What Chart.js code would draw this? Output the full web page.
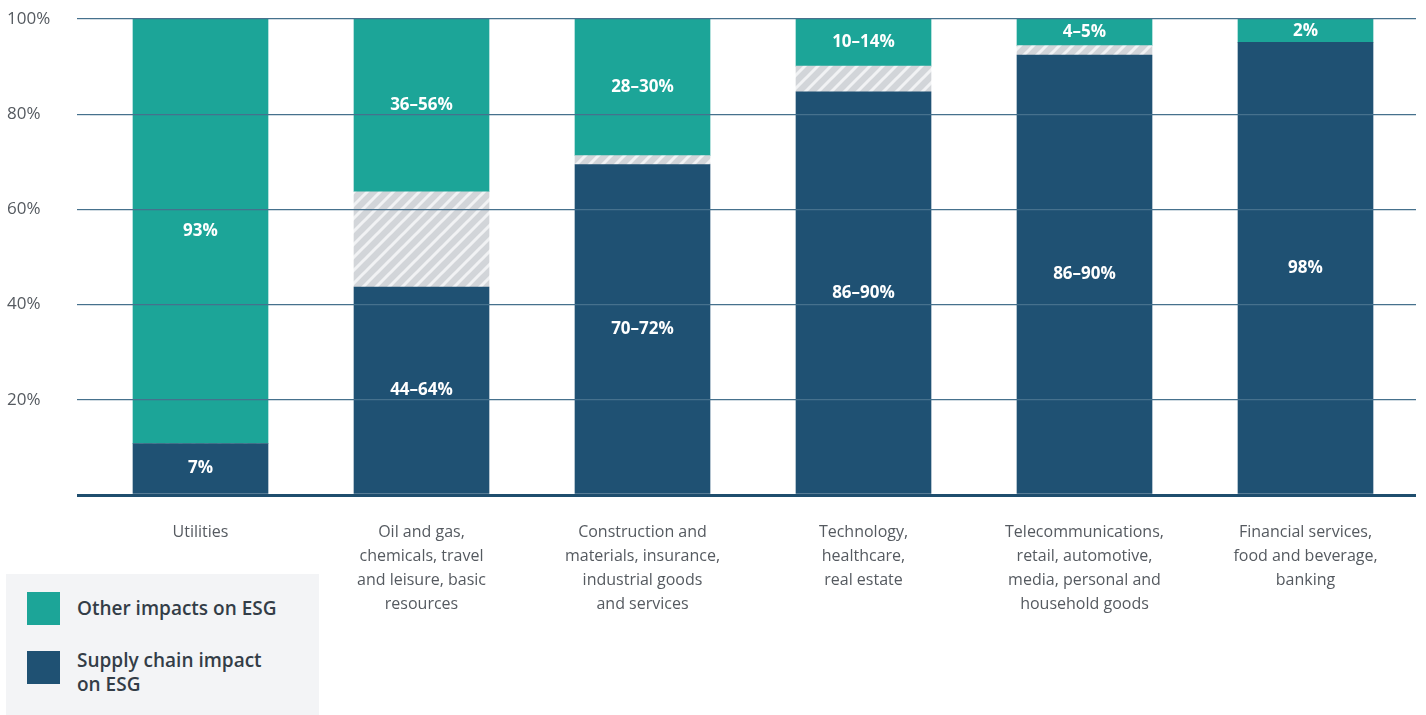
<!DOCTYPE html>
<html lang="en">
<head>
    <meta charset="UTF-8">
    <title>Supply chain impact on ESG</title>
    <script src="https://cdn.jsdelivr.net/npm/chart.js"></script>
    <style>
        body {
            margin: 0;
            background: #fff;
            font-family: "Open Sans", Arial, sans-serif;
        }
        .wrap {
            position: relative;
            width: 1426px;
            height: 715px;
        }
        #legend {
            position: absolute;
            left: 6px;
            top: 574px;
            width: 313px;
            height: 141px;
            background: #f3f4f6;
        }
        .item {
            position: absolute;
            left: 21px;
            display: flex;
            align-items: flex-start;
        }
        .item .box {
            width: 33px;
            height: 33px;
            flex: none;
        }
        .item span {
            margin-left: 17px;
            font-size: 19px;
            font-weight: 600;
            color: #333d47;
            line-height: 24px;
        }
    </style>
</head>
<body>
<div class="wrap">
    <canvas id="chart" width="1426" height="715"></canvas>
    <div id="legend"></div>
</div>
<script>
    const categories = [
        "Utilities",
        ["Oil and gas,", "chemicals, travel", "and leisure, basic", "resources"],
        ["Construction and", "materials, insurance,", "industrial goods", "and services"],
        ["Technology,", "healthcare,", "real estate"],
        ["Telecommunications,", "retail, automotive,", "media, personal and", "household goods"],
        ["Financial services,", "food and beverage,", "banking"]
    ];
    // bar heights as drawn (percent of total)
    const supplyValues = [10.8, 43.7, 69.4, 84.7, 92.4, 95.1];
    const rangeValues = [0, 20, 1.9, 5.4, 2, 0];
    const otherValues = [89.2, 36.3, 28.7, 9.9, 5.6, 4.9];
    const supplyLabels = ["7%", "44–64%", "70–72%", "86–90%", "86–90%", "98%"];
    const otherLabels = ["93%", "36–56%", "28–30%", "10–14%", "4–5%", "2%"];
    const yTicks = [0, 20, 40, 60, 80, 100];

    const teal = "#1ca598";
    const navy = "#1f5173";
    const gridCol = "#46718d";
    const baseCol = "#1f4e6e";

    function makeHatch() {
        const size = 13;
        const c = document.createElement("canvas");
        c.width = size;
        c.height = size;
        const g = c.getContext("2d");
        g.fillStyle = "#d2d5d9";
        g.fillRect(0, 0, size, size);
        g.strokeStyle = "#f1f2f4";
        g.lineWidth = 3;
        g.beginPath();
        g.moveTo(-2, size + 2); g.lineTo(size + 2, -2);
        g.moveTo(-2, 2); g.lineTo(2, -2);
        g.moveTo(size - 2, size + 2); g.lineTo(size + 2, size - 2);
        g.stroke();
        return document.getElementById("chart").getContext("2d").createPattern(c, "repeat");
    }

    const barLabels = {
        id: "barLabels",
        afterDatasetsDraw(chart) {
            const ctx = chart.ctx;
            ctx.save();
            ctx.fillStyle = "#ffffff";
            ctx.font = "bold 17px 'Open Sans', Arial, sans-serif";
            ctx.textAlign = "center";
            ctx.textBaseline = "middle";
            const sets = [[0, supplyLabels], [2, otherLabels]];
            sets.forEach(([di, labels]) => {
                chart.getDatasetMeta(di).data.forEach((bar, i) => {
                    ctx.fillText(labels[i], bar.x, (bar.y + bar.base) / 2);
                });
            });
            ctx.restore();
        }
    };

    const isZero = c => c.tick && c.tick.value === 0;

    const chart = new Chart(document.getElementById("chart"), {
        type: "bar",
        data: {
            labels: categories,
            datasets: [
                { label: "Supply chain impact on ESG", data: supplyValues, backgroundColor: navy },
                { label: "Range", data: rangeValues, backgroundColor: makeHatch() },
                { label: "Other impacts on ESG", data: otherValues, backgroundColor: teal }
            ]
        },
        options: {
            responsive: false,
            animation: false,
            layout: { padding: { left: 7, right: 10, top: 19, bottom: 0 } },
            datasets: { bar: { barThickness: 135 } },
            plugins: {
                legend: { display: false },
                tooltip: { enabled: false }
            },
            scales: {
                x: {
                    stacked: true,
                    grid: { display: false },
                    border: { display: false },
                    ticks: {
                        color: "#555a60",
                        font: { family: "'Open Sans', Arial, sans-serif", size: 16, lineHeight: 1.5 },
                        padding: 17,
                        maxRotation: 0,
                        autoSkip: false
                    },
                    afterFit(scale) { scale.height = 220; }
                },
                y: {
                    stacked: true,
                    min: 0,
                    max: 100,
                    afterBuildTicks(scale) { scale.ticks = yTicks.map(v => ({ value: v })); },
                    grid: {
                        color: c => isZero(c) ? baseCol : gridCol,
                        lineWidth: c => isZero(c) ? 3 : 1.2,
                        tickColor: c => isZero(c) ? baseCol : gridCol,
                        tickWidth: c => isZero(c) ? 3 : 1.2,
                        tickLength: 13,
                        z: 1
                    },
                    border: { display: false },
                    ticks: {
                        crossAlign: "far",
                        color: "#555a60",
                        font: { family: "'Open Sans', Arial, sans-serif", size: 17 },
                        callback: v => v === 0 ? "" : v + "%"
                    },
                    afterFit(scale) { scale.width = 83; }
                }
            }
        },
        plugins: [barLabels]
    });

    // html legend from dataset labels
    const legend = document.getElementById("legend");
    [[2, 18], [0, 77]].forEach(([di, top]) => {
        const ds = chart.data.datasets[di];
        const item = document.createElement("div");
        item.className = "item";
        item.style.top = top + "px";
        item.innerHTML = '<div class="box" style="background:' + ds.backgroundColor + '"></div>' +
            '<span style="margin-top:' + (di === 2 ? 4 : -3) + 'px">' +
            (di === 0 ? "Supply chain impact<br>on ESG" : ds.label) + '</span>';
        legend.appendChild(item);
    });
</script>
</body>
</html>
